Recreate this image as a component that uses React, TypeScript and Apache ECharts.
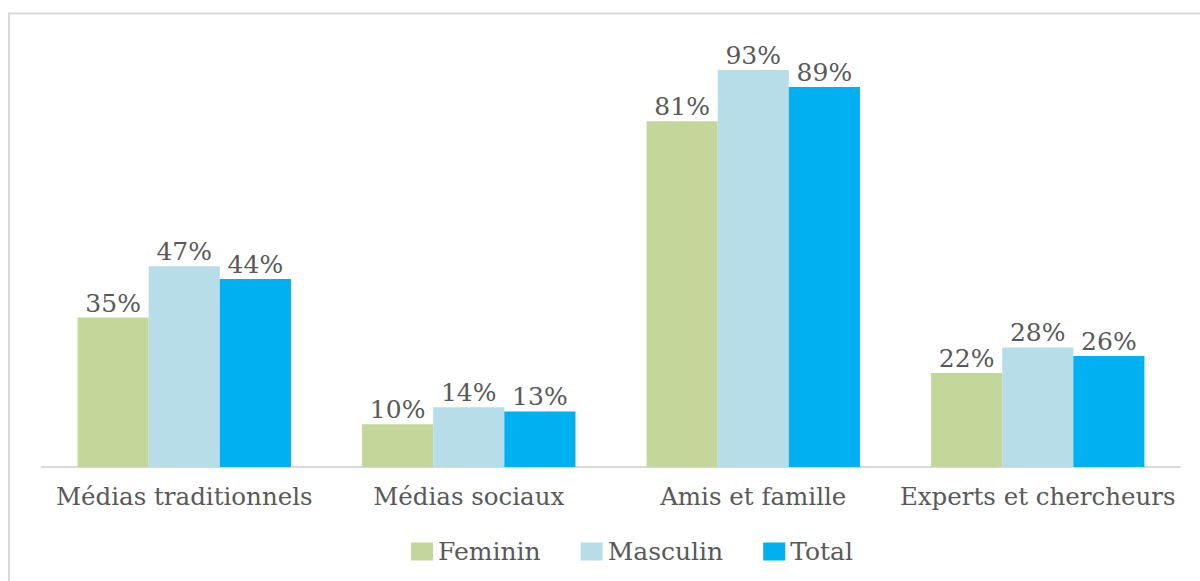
import React, { useEffect, useRef } from "react";
import * as echarts from "echarts";

const categories = ["Médias traditionnels", "Médias sociaux", "Amis et famille", "Experts et chercheurs"];
const feminin = [35, 10, 81, 22];
const masculin = [47, 14, 93, 28];
const total = [44, 13, 89, 26];
const seriesNames = ["Feminin", "Masculin", "Total"];
const colors = ["#c4d79b", "#b7dde8", "#00b0f0"];

const FONT = "DejaVu Serif";

export default function App() {
  const ref = useRef<HTMLDivElement>(null);
  useEffect(() => {
    if (!ref.current) return;
    const chart = echarts.init(ref.current, null, { renderer: "svg" });
    const label = {
      show: true,
      position: "top" as const,
      distance: 2,
      formatter: "{c}%",
      color: "#595959",
      fontFamily: FONT,
      fontSize: 25,
    };
    const data = [feminin, masculin, total];
    chart.setOption({
      animation: false,
      backgroundColor: "#ffffff",
      graphic: [
        {
          type: "rect",
          shape: { x: 9, y: 13.5, width: 1200, height: 600 },
          style: { fill: "none", stroke: "#d9d9d9", lineWidth: 2 },
          silent: true,
        },
      ],
      grid: { left: 42, right: 20, top: 40, bottom: 114, containLabel: false },
      legend: {
        top: 534,
        left: 406,
        itemWidth: 22,
        itemHeight: 18,
        itemGap: 40,
        icon: "rect",
        textStyle: { color: "#595959", fontFamily: FONT, fontSize: 25 },
        data: seriesNames,
      },
      xAxis: {
        type: "category",
        data: categories,
        axisLine: { lineStyle: { color: "#d9d9d9", width: 2 } },
        axisTick: { show: false },
        axisLabel: { color: "#595959", fontFamily: FONT, fontSize: 24.5, margin: 17, interval: 0 },
      },
      yAxis: {
        type: "value",
        min: 0,
        max: 100,
        show: false,
        splitLine: { show: false },
      },
      series: seriesNames.map((name, i) => ({
        name,
        type: "bar",
        data: data[i],
        barGap: "0%",
        barCategoryGap: "25%",
        itemStyle: { color: colors[i] },
        label,
      })),
    });
    return () => chart.dispose();
  }, []);
  return (
    <div
      ref={ref}
      style={{ position: "absolute", left: 0, top: 0, width: 1200, height: 581 }}
    />
  );
}
